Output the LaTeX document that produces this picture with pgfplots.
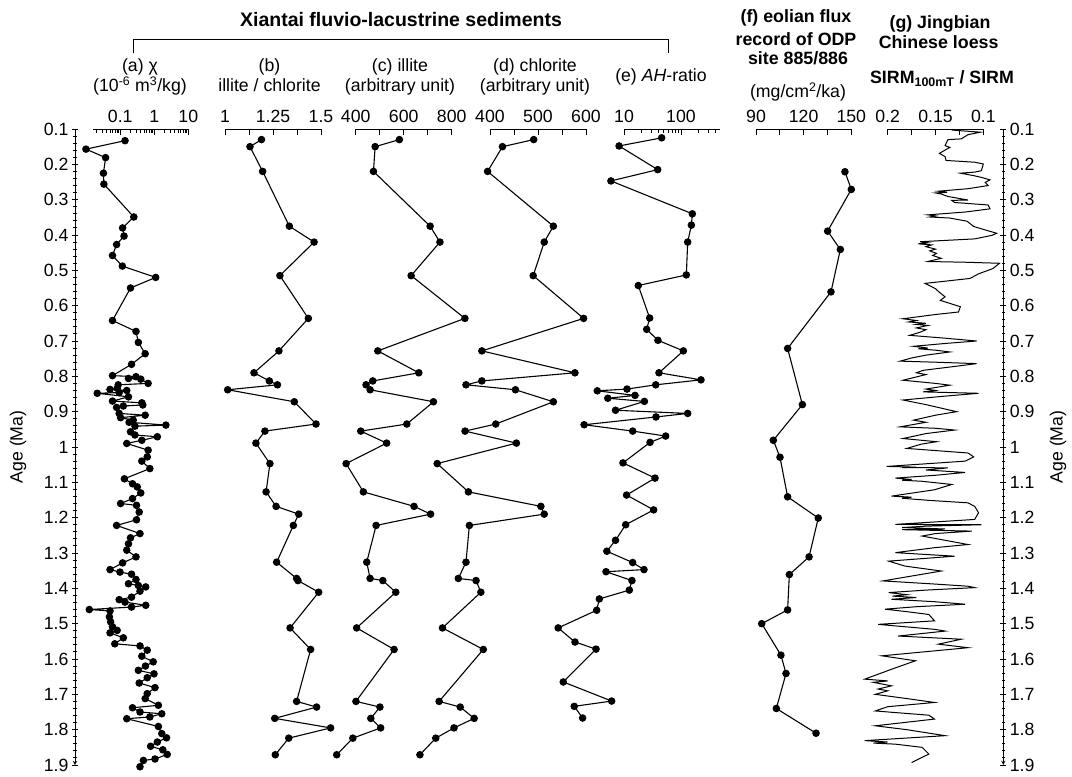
\documentclass[border=0pt]{standalone}
\usepackage{pgfplots}
\pgfplotsset{compat=1.18}
\usepackage{fontspec}
\setmainfont{Liberation Sans}
\newcommand{\fs}{\fontsize{17.7}{20}\selectfont}
\newcommand{\fb}{\fontsize{17.8}{20}\selectfont\bfseries}

\pgfplotsset{
 panel/.style={
  scale only axis, width=96pt, height=636pt,
  ymin=0.1, ymax=1.9, y dir=reverse, enlargelimits=false,
  axis y line=none, axis x line=top,
  x axis line style={-, line width=0.9pt},
  clip=false, tick align=inside,
  major tick length=6pt, minor tick length=3.5pt,
  every tick/.style={black, line width=0.9pt},
  ticklabel style={font=\fs},
  xticklabel style={yshift=3pt},
  anchor=north west,
 },
 ser/.style={black, line width=1.1pt, mark=*, mark size=3.2pt, mark options={solid, fill=black}},
 yax/.style={
  scale only axis, width=928.3pt, height=636pt, anchor=north west, at={(75pt,648pt)},
  ymin=0.1, ymax=1.9, y dir=reverse, xmin=0, xmax=1, enlargelimits=false,
  axis x line=none, y axis line style={-, line width=0.9pt},
  tick align=outside, major tick length=6pt, minor tick length=3.5pt,
  every tick/.style={black, line width=0.9pt},
  ticklabel style={font=\fs},
  ytick={0.1,0.2,0.3,0.4,0.5,0.6,0.7,0.8,0.9,1,1.1,1.2,1.3,1.4,1.5,1.6,1.7,1.8,1.9},
  yticklabels={0.1,0.2,0.3,0.4,0.5,0.6,0.7,0.8,0.9,1,1.1,1.2,1.3,1.4,1.5,1.6,1.7,1.8,1.9},
  minor y tick num=4,
 },
}

\begin{document}
\begin{tikzpicture}
\useasboundingbox (0,0) rectangle (1072pt,777pt);

% ---------- y axes ----------
\begin{axis}[yax, axis y line=left]
\end{axis}
\begin{axis}[yax, axis y line=right]
\end{axis}

% ---------- (a) chi ----------
\begin{axis}[panel, at={(93.3pt,648pt)}, width=95pt, xmode=log, xmin=0.0161, xmax=10,
  xtick={0.1,1,10}, xticklabels={0.1,1,10},
  minor xtick={0.02,0.03,0.04,0.05,0.06,0.07,0.08,0.09,0.2,0.3,0.4,0.5,0.6,0.7,0.8,0.9,2,3,4,5,6,7,8,9}]
\addplot[ser] coordinates {
(0.138,0.133)(0.0098,0.157)(0.037,0.181)(0.032,0.225)(0.033,0.256)(0.25,0.349)
(0.117,0.380)(0.129,0.403)(0.078,0.427)(0.059,0.458)(0.115,0.488)(1.10,0.520)
(0.20,0.550)(0.059,0.642)(0.29,0.673)(0.34,0.704)(0.54,0.736)(0.214,0.766)
(0.059,0.798)(0.29,0.801)(0.174,0.806)(0.40,0.808)(0.66,0.820)(0.087,0.824)
(0.081,0.834)(0.050,0.837)(0.155,0.840)(0.093,0.846)(0.021,0.848)(0.174,0.858)
(0.059,0.870)(0.43,0.875)(0.46,0.881)(0.123,0.884)(0.078,0.888)(0.093,0.905)
(0.54,0.910)(0.102,0.917)(0.24,0.924)(0.182,0.930)(2.19,0.938)(0.27,0.941)
(0.20,0.957)(0.27,0.966)(1.23,0.971)(0.43,0.981)(0.155,0.990)(0.66,1.009)
(0.62,1.028)(0.43,1.040)(0.74,1.061)(0.132,1.090)(0.229,1.104)(0.316,1.113)
(0.40,1.130)(0.229,1.146)(0.102,1.160)(0.30,1.165)(0.36,1.184)(0.30,1.206)
(0.078,1.222)(0.38,1.245)(0.20,1.257)(0.174,1.274)(0.155,1.292)(0.29,1.311)
(0.117,1.328)(0.050,1.347)(0.098,1.354)(0.214,1.360)(0.29,1.375)(0.174,1.387)
(0.34,1.392)(0.56,1.396)(0.38,1.408)(0.214,1.425)(0.093,1.432)(0.138,1.439)
(0.56,1.448)(0.214,1.453)(0.0123,1.460)(0.050,1.464)(0.048,1.481)(0.052,1.495)
(0.059,1.509)(0.081,1.519)(0.050,1.526)(0.123,1.540)(0.069,1.557)(0.38,1.563)
(0.62,1.575)(0.43,1.592)(0.93,1.608)(0.55,1.620)(0.34,1.632)(0.98,1.642)(0.62,1.653)
(0.36,1.668)(1.05,1.681)(0.62,1.698)(0.54,1.712)(1.32,1.731)(0.229,1.738)
(0.38,1.750)(1.66,1.755)(0.74,1.764)(0.155,1.769)(1.32,1.791)(1.66,1.811)
(2.29,1.823)(1.23,1.835)(0.78,1.847)(1.78,1.857)(2.40,1.870)(1.05,1.883)
(0.48,1.887)(0.38,1.905)
};
\end{axis}

% ---------- (b) illite/chlorite ----------
\begin{axis}[panel, at={(225pt,648pt)}, xmin=1, xmax=1.5,
  xtick={1,1.125,1.25,1.375,1.5}, xticklabels={1,,1.25,,1.5}]
\addplot[ser] coordinates {
(1.19,0.13)(1.13,0.15)(1.196,0.22)(1.335,0.375)(1.464,0.42)(1.286,0.515)
(1.434,0.636)(1.281,0.728)(1.151,0.79)(1.231,0.813)(1.273,0.824)(1.014,0.838)
(1.361,0.872)(1.474,0.935)(1.208,0.955)(1.161,0.989)(1.234,1.047)(1.214,1.127)
(1.266,1.168)(1.384,1.190)(1.356,1.222)(1.269,1.326)(1.373,1.372)(1.380,1.378)
(1.488,1.411)(1.339,1.512)(1.446,1.573)(1.373,1.720)(1.477,1.736)(1.259,1.768)
(1.550,1.795)(1.332,1.824)(1.262,1.871)
};
\end{axis}

% ---------- (c) illite ----------
\begin{axis}[panel, at={(355.7pt,648pt)}, xmin=400, xmax=800,
  xtick={400,500,600,700,800}, xticklabels={400,,600,,800}]
\addplot[ser] coordinates {
(582,0.13)(481,0.15)(474,0.22)(710,0.375)(751,0.42)(631,0.515)
(855,0.636)(492,0.728)(663,0.79)(471,0.813)(443,0.824)(460,0.838)
(724,0.872)(613,0.935)(421,0.955)(529,0.989)(360,1.047)(432,1.127)
(643,1.168)(712,1.190)(485,1.222)(446,1.326)(460,1.372)(513,1.378)
(567,1.411)(404,1.512)(560,1.573)(401,1.720)(501,1.736)(463,1.768)
(504,1.795)(388,1.824)(321,1.871)
};
\end{axis}

% ---------- (d) chlorite ----------
\begin{axis}[panel, at={(490pt,648pt)}, xmin=400, xmax=600,
  xtick={400,450,500,550,600}, xticklabels={400,,500,,600}]
\addplot[ser] coordinates {
(491,0.13)(426,0.15)(395,0.22)(532,0.375)(513,0.42)(490,0.515)
(595,0.636)(383,0.728)(577,0.79)(383,0.813)(350,0.824)(453,0.838)
(532,0.872)(412,0.935)(348,0.955)(455,0.989)(290,1.047)(355,1.127)
(506,1.168)(513,1.190)(357,1.222)(350,1.326)(334,1.372)(371,1.378)
(381,1.411)(301,1.512)(386,1.573)(294,1.720)(338,1.736)(367,1.768)
(325,1.795)(287,1.824)(254,1.871)
};
\end{axis}

% ---------- (e) AH-ratio ----------
\begin{axis}[panel, at={(624pt,648pt)}, xmode=log, xmin=10, xmax=483,
  xtick={10,100}, xticklabels={10,100},
  minor xtick={20,30,40,50,60,70,80,90,200,300,400}]
\addplot[ser] coordinates {
(45.8,0.125)(8.2,0.148)(39,0.215)(5.9,0.247)(158,0.34)(152,0.372)(131,0.42)
(124,0.513)(17.8,0.543)(28.2,0.635)(25.0,0.667)(39.4,0.698)(110,0.728)
(41.1,0.79)(224,0.81)(36,0.824)(11.3,0.836)(3.4,0.841)(15.6,0.854)(5.2,0.862)
(22.8,0.871)(7.1,0.896)(131,0.905)(36.4,0.915)(2.0,0.937)(14.2,0.955)
(53.8,0.969)(28.6,0.987)(9.6,1.045)(35,1.088)(11.1,1.136)(33.1,1.178)
(10.7,1.22)(7.1,1.264)(5.0,1.295)(14.2,1.327)(22.4,1.347)(4.83,1.353)
(13.8,1.378)(12.4,1.405)(3.69,1.43)(3.32,1.462)(0.70,1.512)(1.38,1.552)
(3.23,1.572)(0.86,1.665)(6.08,1.719)(1.34,1.734)(1.88,1.767)
};
\end{axis}

% ---------- (f) eolian flux ----------
\begin{axis}[panel, at={(756pt,648pt)}, width=95.3pt, xmin=90, xmax=150,
  xtick={90,105,120,135,150}, xticklabels={90,,120,,150}]
\addplot[ser] coordinates {
(146.0,0.221)(150.0,0.271)(135.1,0.389)(143.1,0.441)(137.2,0.561)(109.9,0.721)
(119.2,0.880)(100.9,0.981)(105.1,1.029)(109.9,1.141)(129.2,1.201)(123.4,1.311)
(111.0,1.361)(109.9,1.461)(93.6,1.500)(105.7,1.589)(108.9,1.641)(102.8,1.740)
(127.8,1.810)
};
\end{axis}

% ---------- (g) SIRM ratio ----------
\begin{axis}[panel, at={(887.7pt,648pt)}, width=95.6pt, x dir=reverse, xmin=0.1, xmax=0.2,
  xtick={0.1,0.125,0.15,0.175,0.2}, xticklabels={0.1,,0.15,,0.2}]
\addplot[black, line width=1.0pt] coordinates {
(0.133,0.103)(0.103,0.109)(0.116,0.116)(0.123,0.128)(0.137,0.130)(0.140,0.147)
(0.135,0.152)(0.146,0.169)(0.140,0.178)(0.139,0.189)(0.109,0.194)(0.100,0.199)
(0.102,0.218)(0.109,0.222)(0.124,0.225)(0.110,0.232)(0.102,0.237)(0.093,0.244)
(0.098,0.251)(0.095,0.260)(0.116,0.269)(0.147,0.276)(0.138,0.279)(0.150,0.281)(0.144,0.284)
(0.137,0.291)(0.116,0.301)(0.133,0.302)(0.130,0.308)(0.095,0.315)(0.093,0.326)
(0.119,0.335)(0.158,0.343)(0.150,0.346)(0.156,0.349)(0.135,0.352)(0.117,0.361)
(0.110,0.376)(0.095,0.388)(0.086,0.395)(0.091,0.401)(0.109,0.411)
(0.166,0.419)(0.158,0.422)(0.168,0.425)(0.154,0.428)(0.160,0.433)(0.150,0.440)
(0.156,0.445)(0.149,0.452)(0.153,0.458)(0.144,0.466)(0.158,0.475)(0.120,0.477)
(0.083,0.480)(0.090,0.495)(0.105,0.510)(0.114,0.523)(0.161,0.537)(0.155,0.545)
(0.150,0.552)(0.146,0.562)(0.140,0.575)(0.145,0.585)(0.124,0.603)(0.126,0.618)
(0.150,0.625)(0.184,0.637)(0.170,0.642)(0.178,0.646)(0.160,0.650)(0.170,0.653)
(0.158,0.656)(0.170,0.663)(0.160,0.668)(0.166,0.675)(0.177,0.684)(0.140,0.692)
(0.107,0.700)(0.140,0.707)(0.173,0.715)(0.158,0.720)(0.168,0.722)(0.150,0.726)
(0.135,0.731)(0.160,0.740)(0.175,0.748)(0.187,0.757)(0.150,0.760)(0.107,0.764)
(0.130,0.772)(0.163,0.783)(0.170,0.790)(0.160,0.795)(0.184,0.811)(0.165,0.816)
(0.150,0.820)(0.135,0.825)(0.160,0.836)(0.150,0.840)(0.163,0.844)(0.105,0.848)
(0.140,0.856)(0.184,0.867)(0.160,0.880)(0.128,0.900)(0.150,0.910)(0.173,0.924)
(0.160,0.930)(0.187,0.943)(0.150,0.947)(0.130,0.952)(0.160,0.962)(0.184,0.976)
(0.149,0.985)(0.165,0.992)(0.180,1.004)
(0.116,1.017)(0.110,1.028)(0.119,1.040)(0.201,1.055)(0.170,1.057)(0.185,1.058)
(0.137,1.059)(0.160,1.065)(0.119,1.072)(0.150,1.080)(0.192,1.088)(0.175,1.092)
(0.185,1.094)(0.164,1.097)(0.133,1.106)(0.151,1.121)(0.196,1.139)(0.175,1.142)
(0.185,1.145)(0.157,1.151)(0.116,1.158)(0.109,1.168)(0.105,1.186)(0.109,1.205)
(0.150,1.212)(0.192,1.219)(0.102,1.220)(0.160,1.224)(0.185,1.228)(0.140,1.232)
(0.185,1.234)(0.112,1.238)(0.150,1.245)(0.164,1.252)(0.116,1.276)(0.151,1.285)
(0.192,1.299)(0.130,1.309)(0.199,1.323)(0.182,1.337)(0.144,1.351)(0.205,1.379)
(0.150,1.388)(0.116,1.394)(0.109,1.398)(0.160,1.405)(0.199,1.412)(0.180,1.418)
(0.195,1.422)(0.170,1.426)(0.196,1.431)(0.150,1.438)(0.119,1.445)(0.170,1.452)
(0.203,1.459)(0.180,1.466)(0.157,1.474)(0.151,1.492)(0.210,1.502)(0.151,1.516)
(0.140,1.521)(0.189,1.535)(0.123,1.544)(0.147,1.558)(0.116,1.568)(0.206,1.591)
(0.171,1.605)(0.196,1.629)(0.224,1.657)(0.200,1.662)(0.215,1.666)(0.196,1.676)
(0.210,1.685)(0.200,1.690)(0.213,1.700)(0.180,1.712)(0.151,1.723)(0.200,1.735)
(0.213,1.747)(0.190,1.752)(0.157,1.759)(0.151,1.770)(0.213,1.789)(0.180,1.800)
(0.140,1.817)(0.224,1.831)(0.200,1.835)(0.215,1.838)(0.192,1.841)(0.164,1.850)
(0.157,1.869)(0.175,1.893)
};
\end{axis}

% ---------- headers ----------
\node[anchor=base, font=\fontsize{19.5}{22}\selectfont\bfseries] at (401pt,750pt) {Xiantai fluvio-lacustrine sediments};
\draw[line width=0.9pt] (133.4pt,723.5pt) -- (133.4pt,738pt) -- (668pt,738pt) -- (668pt,723.5pt);

\node[anchor=base, font=\fs] at (140pt,705pt) {(a) χ};
\node[anchor=base, font=\fs] at (140pt,685pt) {(10\textsuperscript{-6} m\textsuperscript{3}/kg)};
\node[anchor=base, font=\fs] at (269.5pt,705pt) {(b)};
\node[anchor=base, font=\fs] at (269.5pt,685pt) {illite / chlorite};
\node[anchor=base, font=\fs] at (400pt,705pt) {(c) illite};
\node[anchor=base, font=\fs] at (400pt,685pt) {(arbitrary unit)};
\node[anchor=base, font=\fs] at (535pt,705pt) {(d) chlorite};
\node[anchor=base, font=\fs] at (535pt,685pt) {(arbitrary unit)};
\node[anchor=base, font=\fs] at (661pt,695pt) {(e) \textit{AH}-ratio};

\node[anchor=base, font=\fb] at (796pt,754pt) {(f) eolian flux};
\node[anchor=base, font=\fb] at (796pt,731pt) {record of ODP};
\node[anchor=base, font=\fb] at (798pt,712pt) {site 885/886};
\node[anchor=base, font=\fs] at (798pt,679.5pt) {(mg/cm\textsuperscript{2}/ka)};

\node[anchor=base, font=\fb] at (940pt,748.5pt) {(g) Jingbian};
\node[anchor=base, font=\fb] at (938.6pt,728pt) {Chinese loess};
\node[anchor=base, font=\fb] at (942pt,693.6pt) {SIRM\textsubscript{100mT} / SIRM};

\node[rotate=90, font=\fs] at (18pt,330pt) {Age (Ma)};
\node[rotate=90, font=\fs] at (1058pt,330pt) {Age (Ma)};
\end{tikzpicture}
\end{document}
